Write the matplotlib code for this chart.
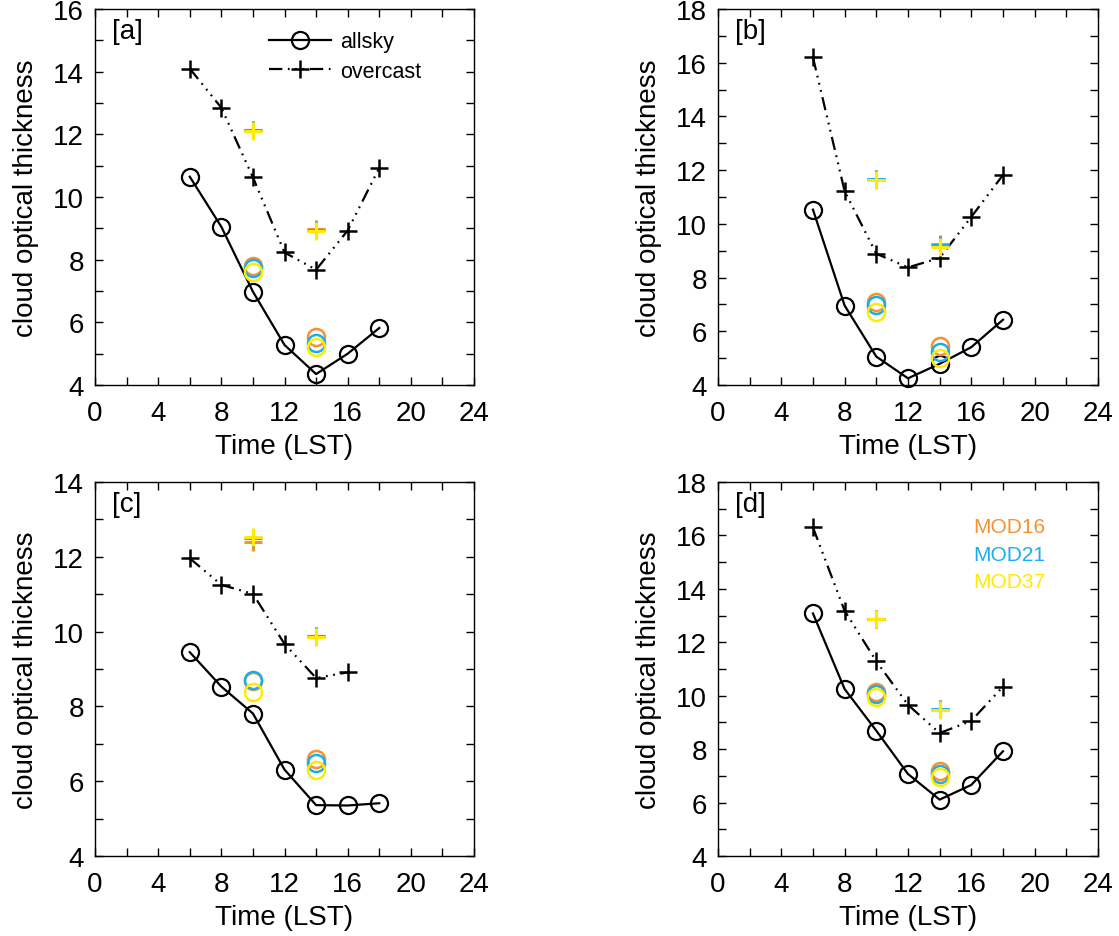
import numpy as np
import matplotlib
matplotlib.use("Agg")
import matplotlib.pyplot as plt
from matplotlib.ticker import MultipleLocator

plt.rcParams['font.family'] = ['Liberation Sans', 'DejaVu Sans']

# local solar time of the ground observations and of the MODIS overpasses
hours = [6, 8, 10, 12, 14, 16, 18]
modis_hours = [10, 14]

# [a]
allsky_a = [10.65, 9.05, 6.98, 5.28, 4.35, 5.0, 5.82]
overcast_a = [14.1, 12.85, 10.63, 8.23, 7.68, 8.93, 10.93]
mod16_allsky_a = [7.80, 5.52]
mod21_allsky_a = [7.72, 5.33]
mod37_allsky_a = [7.60, 5.22]
mod16_overcast_a = [12.15, 8.97]
mod21_overcast_a = [12.14, 8.95]
mod37_overcast_a = [12.12, 8.92]

# [b]
allsky_b = [10.53, 6.96, 5.06, 4.25, 4.79, 5.41, 6.43]
overcast_b = [16.2, 11.22, 8.89, 8.38, 8.73, 10.26, 11.82]
mod16_allsky_b = [7.09, 5.47]
mod21_allsky_b = [6.99, 5.22]
mod37_allsky_b = [6.72, 5.00]
mod16_overcast_b = [11.67, 9.27]
mod21_overcast_b = [11.66, 9.20]
mod37_overcast_b = [11.63, 9.15]

# [c]  (no overcast value at 18 LST)
allsky_c = [9.45, 8.53, 7.81, 6.31, 5.36, 5.35, 5.41]
overcast_c = [11.96, 11.25, 11.01, 9.67, 8.76, 8.91, np.nan]
mod16_allsky_c = [8.69, 6.59]
mod21_allsky_c = [8.70, 6.49]
mod37_allsky_c = [8.38, 6.30]
mod16_overcast_c = [12.40, 9.88]
mod21_overcast_c = [12.50, 9.88]
mod37_overcast_c = [12.53, 9.86]

# [d]
allsky_d = [13.08, 10.25, 8.69, 7.07, 6.11, 6.66, 7.92]
overcast_d = [16.3, 13.18, 11.29, 9.66, 8.6, 9.06, 10.34]
mod16_allsky_d = [10.15, 7.19]
mod21_allsky_d = [10.06, 7.07]
mod37_allsky_d = [9.94, 6.94]
mod16_overcast_d = [12.88, 9.50]
mod21_overcast_d = [12.87, 9.50]
mod37_overcast_d = [12.87, 9.48]

panel_labels = ['[a]', '[b]', '[c]', '[d]']
y_limits = [(4, 16), (4, 18), (4, 14), (4, 18)]
modis_names = ['MOD16', 'MOD21', 'MOD37']
modis_colors = ['#F7922F', '#1AAFEB', '#FFEA00']

# dash + three dots, like IDL linestyle 4
dash_dot3 = (0, (6, 2.5, 0.8, 2.5, 0.8, 2.5, 0.8, 2.5))

fig = plt.figure(figsize=(11.19, 9.37), dpi=100)
positions = [
    [0.0849, 0.588, 0.3387, 0.4013],
    [0.6416, 0.588, 0.3396, 0.4013],
    [0.0849, 0.0854, 0.3387, 0.3991],
    [0.6416, 0.0854, 0.3396, 0.3991],
]

panels = [
    (allsky_a, overcast_a, [mod16_allsky_a, mod21_allsky_a, mod37_allsky_a],
     [mod16_overcast_a, mod21_overcast_a, mod37_overcast_a]),
    (allsky_b, overcast_b, [mod16_allsky_b, mod21_allsky_b, mod37_allsky_b],
     [mod16_overcast_b, mod21_overcast_b, mod37_overcast_b]),
    (allsky_c, overcast_c, [mod16_allsky_c, mod21_allsky_c, mod37_allsky_c],
     [mod16_overcast_c, mod21_overcast_c, mod37_overcast_c]),
    (allsky_d, overcast_d, [mod16_allsky_d, mod21_allsky_d, mod37_allsky_d],
     [mod16_overcast_d, mod21_overcast_d, mod37_overcast_d]),
]

for i, (allsky, overcast, mod_all, mod_ovc) in enumerate(panels):
    ax = fig.add_axes(positions[i])

    ax.plot(hours, allsky, color='black', lw=1.6, marker='o', ms=12.3,
            mfc='none', mec='black', mew=1.6, label='allsky', clip_on=False, zorder=3)
    ax.plot(hours, overcast, color='black', lw=1.6, ls=dash_dot3, marker='+',
            ms=13, mec='black', mew=1.8, label='overcast', clip_on=False, zorder=3)

    # MODIS retrievals, yellow drawn last (on top)
    for vals, col in zip(mod_all, modis_colors):
        ax.plot(modis_hours, vals, ls='none', marker='o', ms=12.3, mfc='none',
                mec=col, mew=1.8, zorder=4)
    for vals, col in zip(mod_ovc, modis_colors):
        ax.plot(modis_hours, vals, ls='none', marker='+', ms=13, mec=col,
                mew=2.2, zorder=4)

    ax.set_xlim(0, 24)
    ax.set_ylim(*y_limits[i])
    ax.xaxis.set_major_locator(MultipleLocator(4))
    ax.xaxis.set_minor_locator(MultipleLocator(2))
    ax.yaxis.set_major_locator(MultipleLocator(2))
    ax.yaxis.set_minor_locator(MultipleLocator(1))
    ax.tick_params(which='both', direction='in', top=True, right=True,
                   length=6, width=1.0, labelsize=20)
    ax.tick_params(axis='x', pad=11)
    ax.tick_params(axis='y', pad=8)
    for sp in ax.spines.values():
        sp.set_linewidth(1.0)

    ax.set_xlabel('Time (LST)', fontsize=20, labelpad=5)
    ax.set_ylabel('cloud optical thickness', fontsize=20, labelpad=10)
    ax.text(0.045, 0.975, panel_labels[i], transform=ax.transAxes,
            fontsize=20, va='top', ha='left')

    if i == 0:
        ax.legend(loc='upper left', bbox_to_anchor=(0.436, 0.964), frameon=False,
                  fontsize=15.5, handlelength=2.9, handletextpad=0.42,
                  labelspacing=0.4, borderaxespad=0)
    if i == 3:
        for k, (name, col) in enumerate(zip(modis_names, modis_colors)):
            ax.text(0.671, 0.88 - k * 0.073, name, color=col, fontsize=15,
                    transform=ax.transAxes, va='center', ha='left')

fig.savefig('out.png', dpi=100)
